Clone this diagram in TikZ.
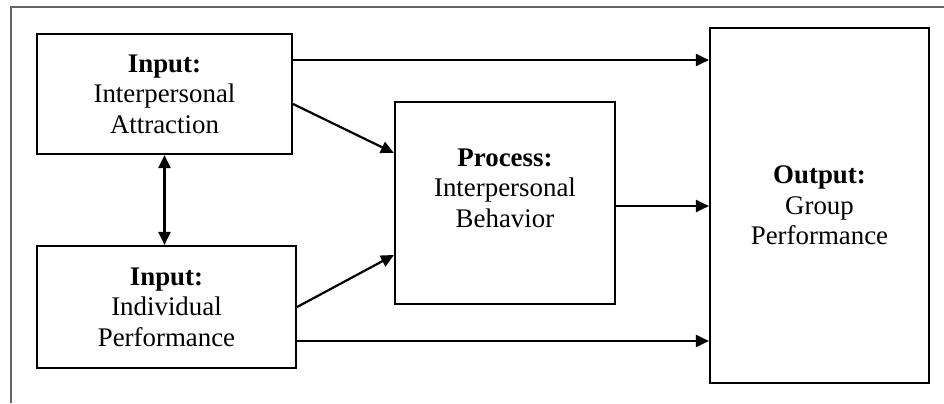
\documentclass[tikz,border=0pt]{standalone}
\usepackage{fontspec}
\setmainfont{Liberation Serif}
\usetikzlibrary{arrows.meta}
\tikzstyle{block}=[draw, line width=1.25pt, align=center, inner sep=0pt, font=\fontsize{15.3}{17.3}\selectfont]
\tikzstyle{flow}=[line width=1.25pt, ->]
\tikzstyle{frame}=[draw=black!60, line width=0.9pt]

\begin{document}
\begin{tikzpicture}[x=0.02cm, y=-0.02cm, >={Triangle[length=0.26cm, width=0.24cm]}]
        \useasboundingbox (0,0) rectangle (944,403);
        \draw[frame] (11,403) -- (11,7) -- (944,7);
        \node[block, minimum width=5.1cm, minimum height=2.4cm] (attr) at (164.5,94) {\textbf{Input:}\\Interpersonal\\Attraction};
        \node[block, minimum width=5.18cm, minimum height=2.44cm] (indiv) at (166.5,307) {\textbf{Input:}\\Individual\\Performance};
        \node[block, minimum width=4.4cm, minimum height=4.04cm,
            label={[block, draw=none, yshift=0.3cm]center:{\textbf{Process:}\\Interpersonal\\Behavior}}] (proc) at (505,203) {};
        \node[block, minimum width=4.38cm, minimum height=7.1cm] (outp) at (819.5,205.5) {\textbf{Output:}\\Group\\Performance};
        \draw[flow] ([yshift=0.68cm]attr.east) -- ([yshift=0.68cm]attr.east -| outp.west);
        \draw[flow] ([yshift=-0.2cm]attr.east) -- ([yshift=1cm]proc.west);
        \draw[flow] (indiv.east) -- ([yshift=-1.04cm]proc.west);
        \draw[flow] ([yshift=-0.68cm]indiv.east) -- ([yshift=-0.68cm]indiv.east -| outp.west);
        \draw[flow] ([yshift=-0.06cm]proc.east) -- ([yshift=-0.06cm]proc.east -| outp.west);
        \draw[flow, <->] (attr.south) -- (attr.south |- indiv.north);
    \end{tikzpicture}
\end{document}
